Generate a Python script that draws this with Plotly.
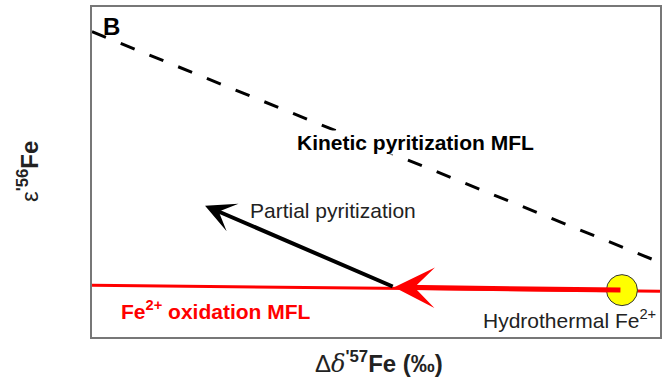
import plotly.graph_objects as go

# Mass-fractionation lines (arbitrary units, x: Δδ'57Fe, y: ε'56Fe)
kinetic_x = [0.0, 10.0]
kinetic_y = [9.25, 2.26]

oxidation_x = [0.0, 10.0]
oxidation_y = [1.57, 1.39]

# Hydrothermal Fe2+ starting composition
source_x = [9.33]
source_y = [1.42]

# Oxidation trajectory (tail -> head) and partial pyritization trajectory
oxid_arrow_x = [9.33, 5.32]
oxid_arrow_y = [1.42, 1.51]
pyr_arrow_x = [5.32, 1.99]
pyr_arrow_y = [1.51, 3.98]

FONT = "Liberation Sans, Arial, sans-serif"
RED = "#ff0000"
INK = "#222222"

W, H = 669, 381
L, R, T, B = 92, 9, 5, 44
pw, ph = W - L - R, H - T - B

fig = go.Figure()

fig.add_trace(go.Scatter(
    x=oxidation_x, y=oxidation_y, mode="lines",
    line=dict(color=RED, width=3), hoverinfo="skip", showlegend=False))

fig.add_trace(go.Scatter(
    x=kinetic_x, y=kinetic_y, mode="lines",
    line=dict(color="black", width=3, dash="15px,16px"),
    hoverinfo="skip", showlegend=False))

fig.add_trace(go.Scatter(
    x=source_x, y=source_y, mode="markers",
    marker=dict(size=31, color="#ffff00", line=dict(color="#333333", width=1)),
    hoverinfo="skip", showlegend=False))

annotations = [
    # thick red oxidation arrow
    dict(x=oxid_arrow_x[1], y=oxid_arrow_y[1], ax=oxid_arrow_x[0], ay=oxid_arrow_y[0],
         xref="x", yref="y", axref="x", ayref="y", text="", showarrow=True,
         arrowhead=3, arrowsize=1.35, arrowwidth=5, arrowcolor=RED,
         standoff=0, startstandoff=0),
    # partial pyritization arrow
    dict(x=pyr_arrow_x[1], y=pyr_arrow_y[1], ax=pyr_arrow_x[0], ay=pyr_arrow_y[0],
         xref="x", yref="y", axref="x", ayref="y", text="", showarrow=True,
         arrowhead=3, arrowsize=1.25, arrowwidth=4, arrowcolor="black",
         standoff=0, startstandoff=0),
]


def plabel(text, px, py, size, color=INK, angle=0, bg=None):
    d = dict(text=text, x=(px - L) / pw, y=(H - B - py) / ph, xref="paper", yref="paper",
             xanchor="center", yanchor="middle", showarrow=False, textangle=angle,
             font=dict(family=FONT, size=size, color=color), borderpad=0)
    if bg:
        d["bgcolor"] = bg
    return d


annotations += [
    plabel("<b>B</b>", 111, 25, 24, color="black"),
    plabel("<b>Kinetic pyritization MFL</b>", 415, 141, 21, color="black", bg="white"),
    plabel("Partial pyritization", 333, 210, 21),
    plabel("<b>Fe<sup>2+</sup> oxidation MFL</b>", 216, 310, 21, color=RED),
    plabel("Hydrothermal Fe<sup>2+</sup>", 569, 319, 21),
    plabel("Δ<span style='font-family:DejaVu Serif'><i>δ</i></span><b><sup>'57</sup>Fe (‰)</b>",
           379, 363, 24),
    plabel("ε<b><sup>'56</sup>Fe</b>", 28, 171, 24, angle=-90),
]

fig.update_layout(
    width=W, height=H,
    margin=dict(l=L, r=R, t=T, b=B),
    paper_bgcolor="white", plot_bgcolor="white",
    annotations=annotations,
    xaxis=dict(range=[0, 10], showgrid=False, zeroline=False, showticklabels=False,
               ticks="", showline=True, linecolor="#777777", linewidth=2, mirror=True,
               fixedrange=True),
    yaxis=dict(range=[0, 10], showgrid=False, zeroline=False, showticklabels=False,
               ticks="", showline=True, linecolor="#777777", linewidth=2, mirror=True,
               fixedrange=True),
)

fig.write_html("out.html")
